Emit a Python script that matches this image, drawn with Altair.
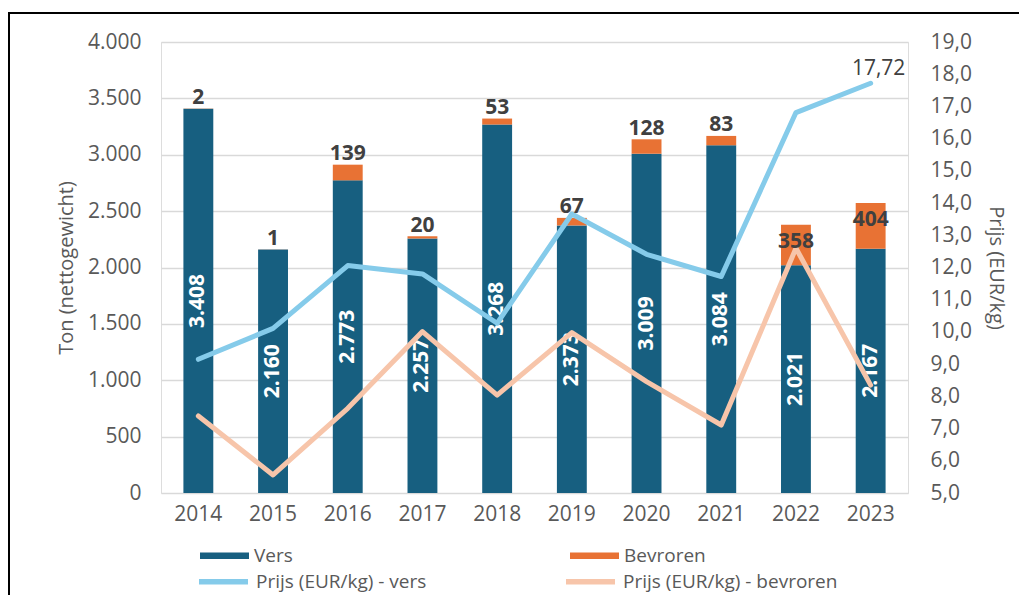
import altair as alt
import pandas as pd

years = ["2014", "2015", "2016", "2017", "2018", "2019", "2020", "2021", "2022", "2023"]
vers = [3408, 2160, 2773, 2257, 3268, 2373, 3009, 3084, 2021, 2167]
bevroren = [2, 1, 139, 20, 53, 67, 128, 83, 358, 404]
prijs_vers = [9.15, 10.11, 12.06, 11.80, 10.27, 13.66, 12.41, 11.72, 16.81, 17.72]
prijs_bevroren = [7.39, 5.56, 7.63, 10.01, 8.04, 9.98, 8.46, 7.11, 12.60, 8.35]

bar_types = ["Vers", "Bevroren"]
bar_colors = ["#175f80", "#e87234"]
line_series = ["Prijs (EUR/kg) - vers", "Prijs (EUR/kg) - bevroren"]
line_colors = ["#85cbea", "#f7c5aa"]

FONT = "Open Sans"
GREY = "#595959"
DARK = "#404040"

bars_df = pd.DataFrame(
    {
        "year": years * 2,
        "type": ["Vers"] * len(years) + ["Bevroren"] * len(years),
        "value": vers + bevroren,
        "order": [0] * len(years) + [1] * len(years),
    }
)
wide_df = pd.DataFrame({"year": years, "vers": vers, "bevroren": bevroren})
lines_df = pd.DataFrame(
    {
        "year": years * 2,
        "serie": [line_series[0]] * len(years) + [line_series[1]] * len(years),
        "price": prijs_vers + prijs_bevroren,
    }
)

x_enc = alt.X(
    "year:N",
    sort=years,
    title=None,
    scale=alt.Scale(paddingInner=0.6, paddingOuter=0.3),
    axis=alt.Axis(
        labelAngle=0,
        domain=False,
        ticks=False,
        grid=False,
        labelPadding=10,
        labelFontSize=21,
        labelColor=GREY,
        labelFont=FONT,
    ),
)
left_scale = alt.Scale(domain=[0, 4000], nice=False)
right_scale = alt.Scale(domain=[5, 19], nice=False, zero=False)

bars = (
    alt.Chart(bars_df)
    .mark_bar()
    .encode(
        x=x_enc,
        y=alt.Y(
            "value:Q",
            stack="zero",
            scale=left_scale,
            axis=alt.Axis(
                orient="left",
                values=list(range(0, 4001, 500)),
                labelExpr="replace(format(datum.value, ',.0f'), ',', '.')",
                grid=True,
                gridColor="#d9d9d9",
                gridWidth=1.5,
                domain=False,
                ticks=False,
                labelPadding=20,
                labelFontSize=21,
                labelColor=GREY,
                labelFont=FONT,
                title="Ton (nettogewicht)",
                titleFontSize=20,
                titleFontWeight="normal",
                titleColor=GREY,
                titleFont=FONT,
                titlePadding=11,
            ),
        ),
        fill=alt.Fill(
            "type:N",
            scale=alt.Scale(domain=bar_types, range=bar_colors),
            legend=alt.Legend(
                title=None,
                orient="none",
                legendX=39,
                legendY=489,
                direction="horizontal",
                columns=2,
                columnPadding=277,
                symbolType="M-1,-0.13H1V0.13H-1Z",
                symbolSize=2401,
                symbolStrokeWidth=0,
                symbolOpacity=1,
                labelOffset=5,
                labelLimit=400,
                labelFontSize=19,
                labelColor=GREY,
                labelFont=FONT,
            ),
        ),
        order=alt.Order("order:Q"),
    )
)

vers_labels = (
    alt.Chart(wide_df)
    .transform_calculate(
        mid="datum.vers / 2",
        lab="replace(format(datum.vers, ',.0f'), ',', '.')",
    )
    .mark_text(angle=270, align="center", baseline="middle", color="white",
               fontWeight="bold", fontSize=21, font=FONT)
    .encode(
        x=alt.X("year:N", sort=years),
        y=alt.Y("mid:Q", scale=left_scale, axis=None),
        text="lab:N",
    )
)

lines = (
    alt.Chart(lines_df)
    .mark_line(strokeWidth=5, strokeCap="round", strokeJoin="round")
    .encode(
        x=alt.X("year:N", sort=years),
        y=alt.Y(
            "price:Q",
            scale=right_scale,
            axis=alt.Axis(
                orient="right",
                values=list(range(5, 20)),
                labelExpr="replace(format(datum.value, '.1f'), '.', ',')",
                grid=False,
                domain=False,
                ticks=False,
                labelPadding=22,
                labelFontSize=21,
                labelColor=GREY,
                labelFont=FONT,
                title="Prijs (EUR/kg)",
                titleFontSize=20,
                titleFontWeight="normal",
                titleColor=GREY,
                titleFont=FONT,
                titlePadding=14,
            ),
        ),
        stroke=alt.Stroke(
            "serie:N",
            scale=alt.Scale(domain=line_series, range=line_colors),
            legend=alt.Legend(
                title=None,
                orient="none",
                legendX=35,
                legendY=512,
                direction="horizontal",
                columns=2,
                columnPadding=128,
                symbolType="stroke",
                symbolSize=2401,
                symbolStrokeWidth=5.5,
                labelOffset=5,
                labelLimit=400,
                labelFontSize=19,
                labelColor=GREY,
                labelFont=FONT,
            ),
        ),
        detail="serie:N",
    )
)

bev_base = alt.Chart(wide_df).transform_calculate(
    total="datum.vers + datum.bevroren",
    lab="replace(format(datum.bevroren, ',.0f'), ',', '.')",
)
bev_small = (
    bev_base.transform_filter("datum.bevroren < 300")
    .mark_text(align="center", baseline="middle", dy=-10.5, color=DARK,
               fontWeight="bold", fontSize=21, font=FONT)
    .encode(
        x=alt.X("year:N", sort=years),
        y=alt.Y("total:Q", scale=left_scale, axis=None),
        text="lab:N",
    )
)
bev_big = (
    bev_base.transform_filter("datum.bevroren >= 300")
    .mark_text(align="center", baseline="middle", dy=17, color=DARK,
               fontWeight="bold", fontSize=21, font=FONT)
    .encode(
        x=alt.X("year:N", sort=years),
        y=alt.Y("total:Q", scale=left_scale, axis=None),
        text="lab:N",
    )
)

price_df = pd.DataFrame({"year": years, "price": prijs_vers})
price_label = (
    alt.Chart(price_df)
    .transform_filter(alt.datum.year == years[-1])
    .transform_calculate(lab="replace(format(datum.price, '.2f'), '.', ',')")
    .mark_text(align="center", baseline="middle", dy=-14, dx=8, color=DARK,
               fontSize=21, font=FONT)
    .encode(
        x=alt.X("year:N", sort=years),
        y=alt.Y("price:Q", scale=right_scale, axis=None),
        text="lab:N",
    )
)

frame_df = pd.DataFrame({"k": [0]})
top_rule = alt.Chart(frame_df).mark_rule(color="black", strokeWidth=2, clip=False).encode(
    x=alt.value(-153), x2=alt.value(880), y=alt.value(-29)
)
left_rule = alt.Chart(frame_df).mark_rule(color="black", strokeWidth=2, clip=False).encode(
    x=alt.value(-152), y=alt.value(-30), y2=alt.value(620)
)

chart = (
    alt.layer(bars, vers_labels, lines, bev_small, bev_big, price_label, top_rule, left_rule)
    .resolve_scale(y="independent", fill="independent", stroke="independent")
    .properties(
        width=747,
        height=451,
        autosize=alt.AutoSizeParams(type="none"),
        padding={"left": 153, "top": 34, "right": 111, "bottom": 102},
    )
    .configure_view(stroke=None)
    .configure(font=FONT)
)

chart.save("out.html", embed_options={"renderer": "svg", "actions": False})
